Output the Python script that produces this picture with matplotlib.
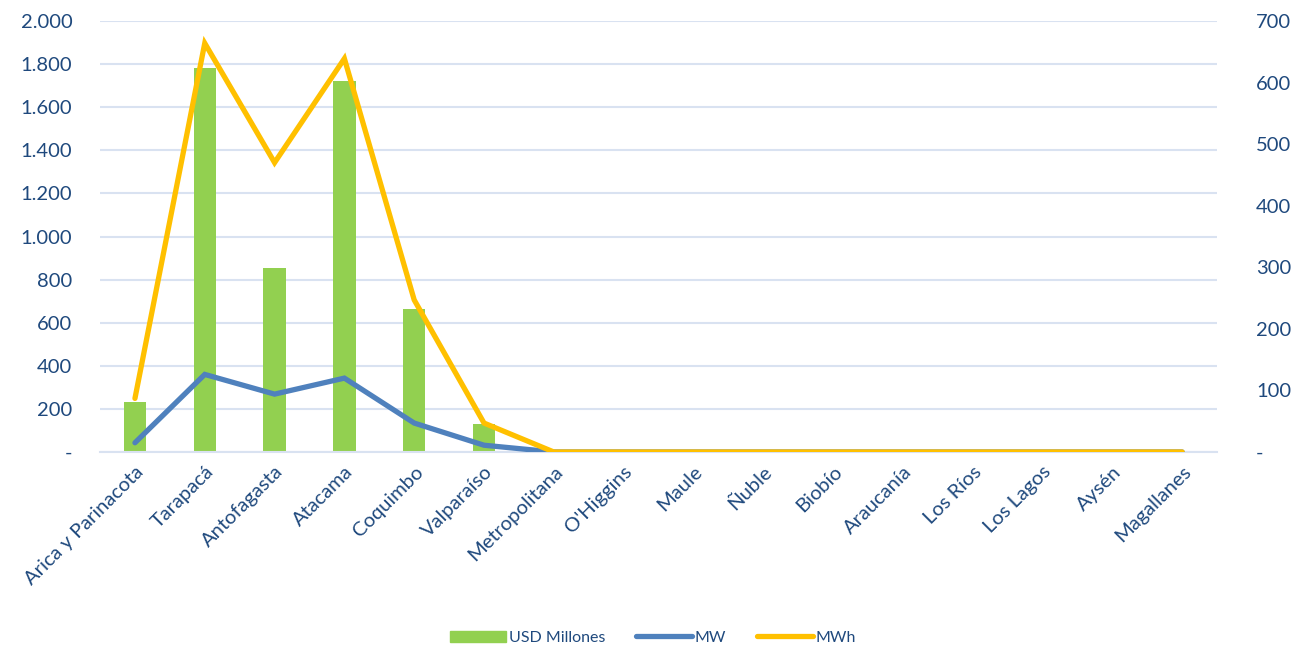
import matplotlib
matplotlib.use("Agg")
import matplotlib.pyplot as plt
from matplotlib.ticker import FuncFormatter, MultipleLocator
from matplotlib.patches import Patch
from matplotlib.lines import Line2D

regiones = ["Arica y Parinacota", "Tarapacá", "Antofagasta", "Atacama", "Coquimbo",
            "Valparaíso", "Metropolitana", "O'Higgins", "Maule", "Ñuble", "Biobío",
            "Araucanía", "Los Ríos", "Los Lagos", "Aysén", "Magallanes"]
usd_millones = [232, 1783, 856, 1720, 663, 129, 0, 0, 0, 0, 0, 0, 0, 0, 0, 0]
mw = [15, 126, 94, 120, 47, 11, 0, 0, 0, 0, 0, 0, 0, 0, 0, 0]
mwh = [87, 664, 470, 639, 247, 47, 0, 0, 0, 0, 0, 0, 0, 0, 0, 0]

TXT = "#1F497D"
GREEN = "#92D050"
BLUE = "#4F81BD"
YELLOW = "#FFC000"
GRID = "#D9E2F1"

plt.rcParams['font.family'] = ['Lato', 'DejaVu Sans']

fig = plt.figure(figsize=(13.06, 6.47), dpi=100)
ax = fig.add_axes([0.0766, 0.3014, 0.8553, 0.6661])
ax2 = ax.twinx()

x = list(range(len(regiones)))
ax.bar(x, usd_millones, width=0.32, color=GREEN, zorder=2)
ax2.plot(x, mw, color=BLUE, lw=3.8, solid_capstyle="round", solid_joinstyle="miter", zorder=3)
ax2.plot(x, mwh, color=YELLOW, lw=3.8, solid_capstyle="round", solid_joinstyle="miter", zorder=4)

ax.set_xlim(-0.5, len(regiones) - 0.5)
ax.set_ylim(0, 2000)
ax2.set_ylim(0, 700)
ax.yaxis.set_major_locator(MultipleLocator(200))
ax2.yaxis.set_major_locator(MultipleLocator(100))


def miles(v, pos):
    if v == 0:
        return "-"
    return f"{int(v):,}".replace(",", ".")


ax.yaxis.set_major_formatter(FuncFormatter(miles))
ax2.yaxis.set_major_formatter(FuncFormatter(miles))

ax.grid(axis="y", color=GRID, lw=1.5, zorder=0)
ax.set_axisbelow(True)
for a in (ax, ax2):
    for s in a.spines.values():
        s.set_visible(False)
ax.spines["bottom"].set_visible(True)
ax.spines["bottom"].set_color(GRID)
ax.spines["bottom"].set_linewidth(1.5)

ax.set_xticks(x)
ax.set_xticklabels(regiones, rotation=45, ha="right", rotation_mode="anchor")
ax.tick_params(axis="x", length=0, pad=8, labelsize=14.5, labelcolor=TXT)
ax.tick_params(axis="y", length=0, pad=20, labelsize=14.5, labelcolor=TXT)
ax2.tick_params(axis="y", length=0, pad=28, labelsize=14.5, labelcolor=TXT)

handles = [Patch(color=GREEN), Line2D([], [], color=BLUE, lw=3.8, solid_capstyle="round"),
           Line2D([], [], color=YELLOW, lw=3.8, solid_capstyle="round")]
leg = fig.legend(handles, ["USD Millones", "MW", "MWh"], loc="center", bbox_to_anchor=(0.5, 0.014),
                 ncol=3, frameon=False, fontsize=11.5, handlelength=3.5, handletextpad=0.2,
                 columnspacing=1.9)
for t in leg.get_texts():
    t.set_color(TXT)

fig.savefig("out.png", dpi=100)
